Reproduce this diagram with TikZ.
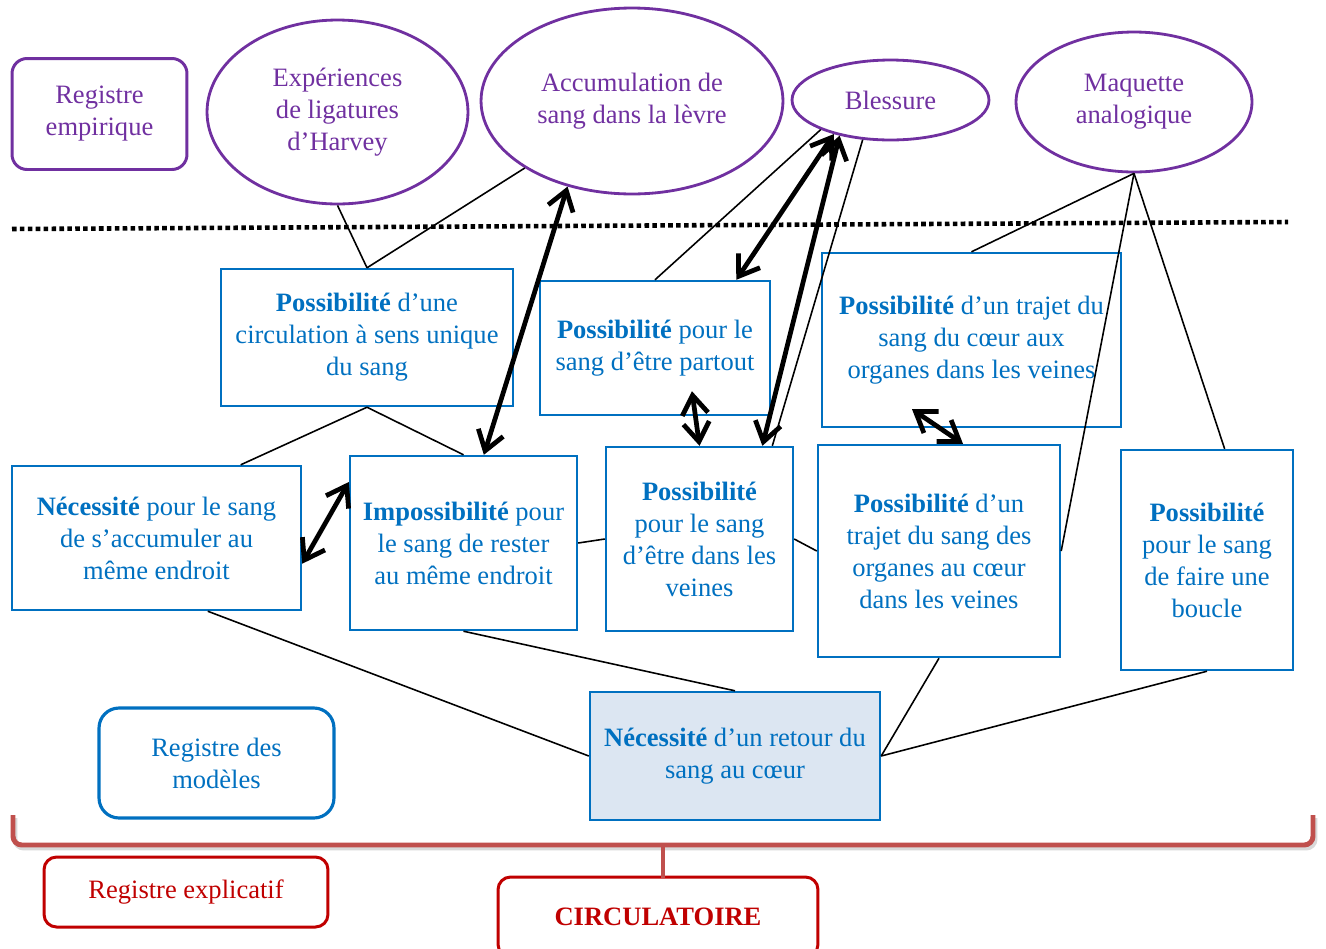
\documentclass[tikz,border=0pt]{standalone}
\usepackage{fontspec}
\setmainfont{Liberation Serif}
\usepackage{xcolor}
\usetikzlibrary{arrows.meta,calc,shapes.geometric}
\definecolor{ogpurple}{HTML}{7030A0}
\definecolor{ogblue}{HTML}{0070C0}
\definecolor{ogfill}{HTML}{DCE6F2}
\definecolor{ogred}{HTML}{C00000}
\definecolor{ogbrace}{HTML}{C0504D}
\tikzset{
  empbox/.style={draw=ogpurple, text=ogpurple, line width=1.7pt, rounded corners=0.3cm, align=center, inner sep=0pt},
  empell/.style={ellipse, draw=ogpurple, text=ogpurple, line width=1.6pt, align=center, inner sep=0pt},
  hypbox/.style={draw=ogblue, text=ogblue, line width=1.4pt, align=center, inner sep=0pt},
  modbox/.style={draw=ogblue, text=ogblue, line width=1.8pt, rounded corners=0.4cm, align=center, inner sep=0pt},
  expbox/.style={draw=ogred, text=ogred, line width=1.7pt, rounded corners=0.25cm, align=center, inner sep=0pt},
  lien/.style={line width=0.9pt},
  dblarrow/.style={{Straight Barb[length=3.8mm,width=5.2mm]}-{Straight Barb[length=3.8mm,width=5.2mm]}, line width=2.7pt},
  bracepath/.style={line width=2.8pt, rounded corners=5pt}
}

\begin{document}
\begin{tikzpicture}[x=0.02cm,y=-0.02cm,font=\fontsize{15.1}{18.2}\selectfont]
  \clip (0,0) rectangle (1326,948);

  % registre empirique
  \node[empbox, minimum width=3.5cm, minimum height=2.22cm] (remp) at (99.5,114) {Registre\\empirique};
  \node[empell, minimum width=5.22cm, minimum height=3.68cm] (harvey) at (337.5,112) {Expériences\\de ligatures\\d’Harvey};
  \node[empell, minimum width=6.04cm, minimum height=3.72cm] (levre) at (632,101) {Accumulation de\\sang dans la lèvre};
  \node[empell, minimum width=3.94cm, minimum height=1.6cm] (bless) at (890.5,100) {Blessure};
  \node[empell, minimum width=4.72cm, minimum height=2.8cm] (maq) at (1134,102) {Maquette\\analogique};

  \draw[line width=2.6pt, dash pattern=on 2.6pt off 1.9pt] (12,229) -- (1288,222);

  % registre des modeles
  \node[hypbox, minimum width=5.84cm, minimum height=2.74cm] (sensu) at (367,337.5) {\textbf{Possibilité} d’une\\circulation à sens unique\\du sang};
  \node[hypbox, minimum width=4.6cm, minimum height=2.68cm] (partout) at (655,348) {\textbf{Possibilité} pour le\\sang d’être partout};
  \node[hypbox, minimum width=5.98cm, minimum height=3.48cm] (allerv) at (971.5,340) {\textbf{Possibilité} d’un trajet du\\sang du cœur aux\\organes dans les veines};
  \node[hypbox, minimum width=5.78cm, minimum height=2.88cm] (accu) at (156.5,538) {\textbf{Nécessité} pour le sang\\de s’accumuler au\\même endroit};
  \node[hypbox, minimum width=4.54cm, minimum height=3.48cm] (rester) at (463.5,543) {\textbf{Impossibilité} pour\\le sang de rester\\au même endroit};
  \node[hypbox, minimum width=3.74cm, minimum height=3.68cm] (veines) at (699.5,539) {\textbf{Possibilité}\\pour le sang\\d’être dans les\\veines};
  \node[hypbox, minimum width=4.84cm, minimum height=4.24cm] (retourv) at (939,551) {\textbf{Possibilité} d’un\\trajet du sang des\\organes au cœur\\dans les veines};
  \node[hypbox, minimum width=3.44cm, minimum height=4.4cm] (boucle) at (1207,560) {\textbf{Possibilité}\\pour le sang\\de faire une\\boucle};
  \node[hypbox, fill=ogfill, minimum width=5.8cm, minimum height=2.56cm] (retour) at (735,756) {\textbf{Nécessité} d’un retour du\\sang au cœur};
  \node[modbox, minimum width=4.7cm, minimum height=2.2cm] (rmod) at (216.5,763) {Registre des\\modèles};

  % registre explicatif
  \node[expbox, minimum width=5.68cm, minimum height=1.4cm] (rexp) at (186,892) {Registre explicatif};
  \node[expbox, minimum width=6.4cm, minimum height=1.6cm] (circ) at (658,917) {\textbf{CIRCULATOIRE}};

  \draw[bracepath, black!25, opacity=0.6] (15,818) -- (15,848) -- (1315,848) -- (1315,818);
  \draw[bracepath, ogbrace] (13,815) -- (13,845) -- (1313,845) -- (1313,815);
  \draw[bracepath, ogbrace] (663,845) -- (663,878);

  % liens
  \draw[lien] (harvey.south) -- (sensu.north);
  \draw[lien] (levre.212) -- (sensu.north);
  \draw[lien] (sensu.south) -- (accu.41);
  \draw[lien] (sensu.south) -- (rester.north);
  \draw[lien] (bless.203) -- (partout.north);
  \draw[lien] (bless.235) -- (veines.52);
  \draw[lien] (maq.south) -- (allerv.north);
  \draw[lien] (maq.south) -- (retourv.east);
  \draw[lien] (maq.south) -- (boucle.81);
  \draw[lien] (rester.east) -- (veines.west);
  \draw[lien] (veines.east) -- (retourv.west);
  \draw[lien] (accu.-55) -- (retour.west);
  \draw[lien] (rester.south) -- (retour.north);
  \draw[lien] (retourv.south) -- (retour.east);
  \draw[lien] (boucle.south) -- (retour.east);

  % fleches
  \draw[dblarrow] (rester.77) -- (levre.233);
  \draw[dblarrow] (accu.-10) -- (rester.152);
  \draw[dblarrow] (partout.40) -- (bless.211);
  \draw[dblarrow] (veines.56) -- (bless.215);
  \draw[dblarrow] ([xshift=0.74cm,yshift=0.5cm]partout.south) -- (veines.north);
  \draw[dblarrow] ([xshift=-1.19cm,yshift=0.38cm]allerv.south) -- ([xshift=0.48cm]retourv.north);
\end{tikzpicture}
\end{document}
